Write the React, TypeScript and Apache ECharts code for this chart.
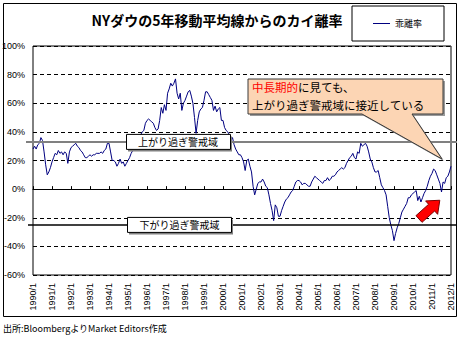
import React, { useEffect, useRef } from 'react';
import * as echarts from 'echarts';

// Monthly deviation (%) of the NY Dow from its 5-year moving average, 1990/1 - 2012/1
const dev1990to1994 = [
  28, 30, 28, 31, 32, 36, 34, 26, 17, 10, 12, 15,
  19, 22, 25, 24, 27, 25, 26, 24, 26, 25, 18, 26,
  29, 30, 31, 32, 30, 29, 27, 26, 24, 22, 22, 23,
  24, 23, 24, 24, 25, 25, 25, 26, 25, 27, 28, 32,
  32, 26, 20, 20, 19, 16, 18, 21, 18, 19, 16, 18,
];
const dev1995to1999 = [
  20, 22, 25, 27, 30, 33, 35, 36, 38, 40, 41, 46,
  48, 49, 48, 47, 46, 43, 41, 42, 48, 57, 53, 59,
  55, 67, 70, 74, 72, 74, 77, 67, 63, 67, 55, 60,
  62, 65, 68, 69, 65, 60, 50, 39, 48, 54, 56, 57,
  62, 68, 68, 66, 64, 62, 55, 58, 54, 56, 57, 48,
];
const dev2000to2004 = [
  48, 43, 41, 40, 38, 34, 36, 31, 28, 26, 24, 24,
  22, 19, 13, 20, 21, 16, 12, 2, -4, 0, 4, 5,
  5, 7, 5, 2, 1, -4, -10, -15, -22, -11, -13, -19,
  -19, -15, -12, -9, -7, -6, -4, -2, -1, 2, 5, 6,
  6, 5, 3, 4, 4, 3, 2, 2, 5, 7, 9, 8,
];
const dev2005to2009 = [
  7, 6, 5, 4, 6, 6, 8, 6, 7, 9, 9, 10,
  12, 13, 14, 15, 14, 15, 18, 20, 22, 23, 25, 22,
  21, 26, 25, 32, 30, 31, 32, 30, 26, 21, 19, 15,
  12, 12, 13, 8, 3, 1, -1, -4, -12, -20, -25, -29,
  -36, -31, -27, -24, -20, -16, -14, -12, -10, -6, -6, -4,
];
const dev2010to2012 = [
  -3, -2, -1, -8, -5, -9, -6, -3, -1, 2, 6, 9,
  11, 14, 13, 10, 7, 4, -2, 5, 4, 8, 9, 12,
  16,
];

const seriesName = '乖離率';
const titleText = 'NYダウの5年移動平均線からのカイ離率';
const sourceText = '出所:BloombergよりMarket Editors作成';
const upperWarnLevel = 33;
const lowerWarnLevel = -25;
const upperWarnLabel = '上がり過ぎ警戒域';
const lowerWarnLabel = '下がり過ぎ警戒域';
const yMin = -60;
const yMax = 100;
const yStep = 20;
const firstYear = 1990;
const lastYear = 2012;

const values = [
  ...dev1990to1994,
  ...dev1995to1999,
  ...dev2000to2004,
  ...dev2005to2009,
  ...dev2010to2012,
];

const categories: string[] = [];
for (let y = firstYear; y <= lastYear; y++) {
  for (let m = 1; m <= 12; m++) {
    if (y === lastYear && m > 1) break;
    categories.push(`${y}/${m}`);
  }
}

const JP = "'Noto Sans CJK JP', 'Liberation Sans', sans-serif";
const LAT = "'Liberation Sans', 'Noto Sans CJK JP', sans-serif";

function arrowPoints(ox: number, oy: number, angleDeg: number) {
  const a = (angleDeg * Math.PI) / 180;
  const c = Math.cos(a);
  const s = Math.sin(a);
  const local = [
    [0, -4.5], [17, -4.5], [17, -9], [28, 0], [17, 9], [17, 4.5], [0, 4.5],
  ];
  return local.map(([x, y]) => [ox + x * c - y * s, oy + x * s + y * c]);
}

export default function App() {
  const ref = useRef<HTMLDivElement>(null);

  useEffect(() => {
    if (!ref.current) return;
    const chart = echarts.init(ref.current, null, { renderer: 'svg' });
    chart.setOption({
      animation: false,
      backgroundColor: '#fff',
      legend: {
        left: 352,
        top: 6,
        data: [{ name: seriesName, icon: 'rect' }],
        itemWidth: 17,
        itemHeight: 1,
        padding: [12, 22, 12, 21],
        borderColor: '#000',
        borderWidth: 1,
        backgroundColor: '#fff',
        textStyle: { fontSize: 9, color: '#000', fontFamily: JP, lineHeight: 11 },
      },
      grid: {
        left: 33,
        right: 9,
        top: 46,
        bottom: 63,
        containLabel: false,
        outerBoundsMode: 'none',
        show: true,
        borderColor: '#000',
        borderWidth: 1,
        backgroundColor: '#fff',
      },
      xAxis: {
        type: 'category',
        data: categories,
        boundaryGap: false,
        axisLine: { onZero: true, lineStyle: { color: '#000', width: 1 } },
        axisTick: { show: true, inside: true, length: 3, interval: 11, lineStyle: { color: '#000' } },
        axisLabel: {
          interval: 11,
          rotate: 90,
          margin: 8,
          fontSize: 9,
          color: '#000',
          fontFamily: LAT,
        },
        splitLine: { show: false },
      },
      yAxis: {
        type: 'value',
        min: yMin,
        max: yMax,
        interval: yStep,
        axisLine: { show: false },
        axisTick: { show: false },
        axisLabel: {
          formatter: (v: number) => `${v}%`,
          fontSize: 9,
          color: '#000',
          margin: 8,
          fontFamily: LAT,
        },
        splitLine: { show: true, lineStyle: { color: '#000', type: [4, 3], width: 1 } },
      },
      series: [
        {
          name: seriesName,
          type: 'line',
          data: values,
          symbol: 'none',
          lineStyle: { color: '#000080', width: 1 },
          itemStyle: { color: '#000080' },
          z: 3,
        },
      ],
    });

    const yUp = chart.convertToPixel({ yAxisIndex: 0 }, upperWarnLevel) as number;
    const yLo = chart.convertToPixel({ yAxisIndex: 0 }, lowerWarnLevel) as number;

    const calloutPts = [
      [248, 79], [443, 79], [443, 114], [412, 114], [442, 159], [362, 114], [248, 114],
    ];
    const shadowPts = calloutPts.map(([x, y]) => [x + 2, y + 2]);

    chart.setOption({
      graphic: [
        {
          type: 'rect',
          z: 0,
          silent: true,
          shape: { x: 3.5, y: 3.5, width: 453, height: 313 },
          style: { fill: 'none', stroke: '#000', lineWidth: 1 },
        },
        {
          type: 'text',
          z: 20,
          x: 217,
          y: 20,
          style: {
            text: titleText,
            fontSize: 14,
            fontWeight: 'bold',
            fontFamily: JP,
            fill: '#000',
            textAlign: 'center',
            textVerticalAlign: 'middle',
          },
        },
        {
          type: 'line',
          z: 20,
          shape: { x1: 26, y1: yUp, x2: 457, y2: yUp },
          style: { stroke: '#808080', lineWidth: 2 },
        },
        {
          type: 'line',
          z: 20,
          shape: { x1: 28, y1: yLo, x2: 457, y2: yLo },
          style: { stroke: '#000', lineWidth: 1.5 },
        },
        {
          type: 'rect',
          z: 21,
          shape: { x: 128, y: yUp - 5.5, width: 104, height: 15 },
          style: { fill: '#808080' },
        },
        {
          type: 'rect',
          z: 22,
          shape: { x: 126.5, y: yUp - 7.5, width: 104, height: 15 },
          style: { fill: '#fff', stroke: '#000', lineWidth: 1 },
        },
        {
          type: 'text',
          z: 23,
          x: 178,
          y: yUp,
          style: {
            text: upperWarnLabel,
            fontSize: 10,
            fontFamily: JP,
            fill: '#000',
            textAlign: 'center',
            textVerticalAlign: 'middle',
          },
        },
        {
          type: 'rect',
          z: 21,
          shape: { x: 129, y: yLo - 5.5, width: 104, height: 15 },
          style: { fill: '#808080' },
        },
        {
          type: 'rect',
          z: 22,
          shape: { x: 127.5, y: yLo - 7.5, width: 104, height: 15 },
          style: { fill: '#fff', stroke: '#000', lineWidth: 1 },
        },
        {
          type: 'text',
          z: 23,
          x: 179.5,
          y: yLo,
          style: {
            text: lowerWarnLabel,
            fontSize: 10,
            fontFamily: JP,
            fill: '#000',
            textAlign: 'center',
            textVerticalAlign: 'middle',
          },
        },
        {
          type: 'polygon',
          z: 24,
          shape: { points: shadowPts },
          style: { fill: '#9a9a9a' },
        },
        {
          type: 'polygon',
          z: 25,
          shape: { points: calloutPts },
          style: { fill: '#FCD5B4', stroke: '#3a3a3a', lineWidth: 1 },
        },
        {
          type: 'text',
          z: 26,
          x: 252,
          y: 78,
          style: {
            text: '{r|中長期的}{k|に見ても、}\n{k|上がり過ぎ警戒域に接近している}',
            fontFamily: JP,
            textVerticalAlign: 'top',
            rich: {
              r: { fontSize: 11.5, fill: '#ff0000', fontFamily: JP, lineHeight: 18 },
              k: { fontSize: 11.5, fill: '#000', fontFamily: JP, lineHeight: 18 },
            },
          },
        },
        {
          type: 'polygon',
          z: 26,
          shape: { points: arrowPoints(419, 219, -42) },
          style: { fill: '#ff0000', stroke: '#7a0000', lineWidth: 1 },
        },
        {
          type: 'text',
          z: 20,
          x: 3,
          y: 328,
          style: {
            text: sourceText,
            fontSize: 9,
            fontFamily: JP,
            fill: '#000',
            textVerticalAlign: 'middle',
          },
        },
      ],
    });

    return () => chart.dispose();
  }, []);

  return (
    <div
      ref={ref}
      style={{ position: 'absolute', left: 0, top: 0, width: 460, height: 338, background: '#fff' }}
    />
  );
}
